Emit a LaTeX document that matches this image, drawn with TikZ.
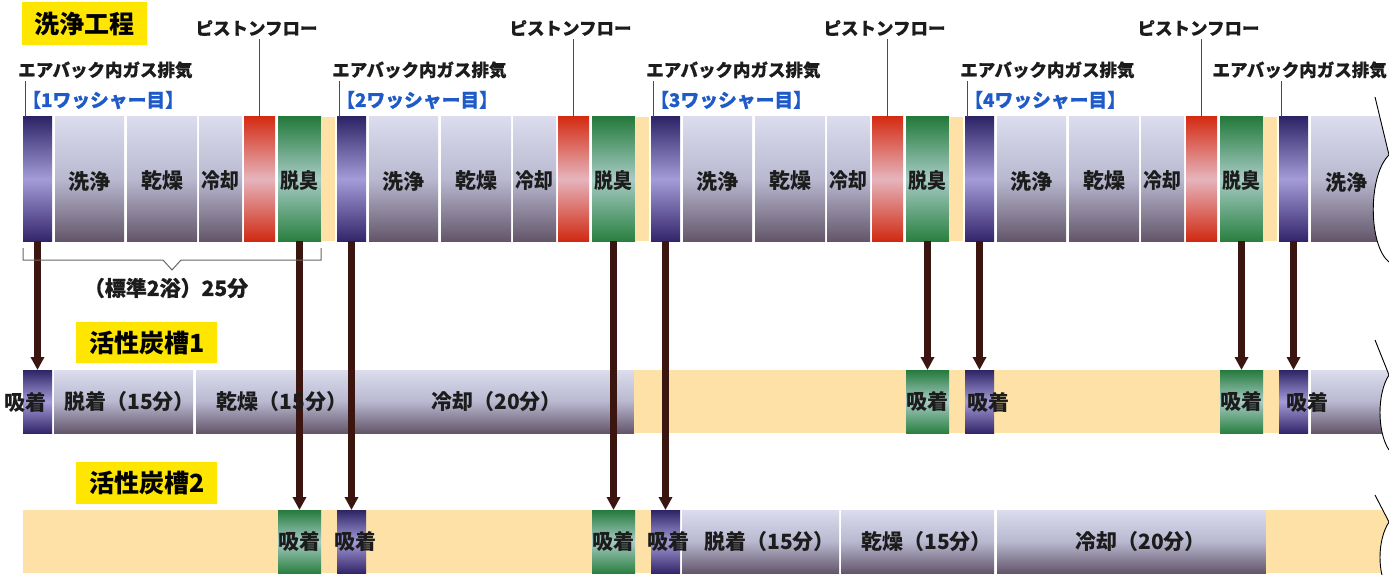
\documentclass[tikz,border=0pt]{standalone}
\usepackage{fontspec}
\usepackage{graphicx}
\setmainfont{Noto Sans CJK JP}
\newfontfamily\jpmed{Noto Sans CJK JP}[FakeBold=0.5]
\usetikzlibrary{arrows.meta}
\newcommand\fs[1]{\fontsize{#1}{#1}\selectfont}
\newcommand\medf{\jpmed\bfseries}
\definecolor{gyT}{HTML}{DCDCEE}
\definecolor{gyM}{HTML}{B8B8D0}
\definecolor{gyB}{HTML}{64566A}
\definecolor{puT}{HTML}{2C2466}
\definecolor{puM}{HTML}{A49CD8}
\definecolor{puB}{HTML}{33256A}
\definecolor{reT}{HTML}{D42C14}
\definecolor{reM}{HTML}{E6B4BC}
\definecolor{reB}{HTML}{D02A12}
\definecolor{grT}{HTML}{247A3C}
\definecolor{grM}{HTML}{A6CBC4}
\definecolor{grB}{HTML}{2A8040}
\definecolor{yel}{HTML}{FDE1A6}
\definecolor{ttlY}{HTML}{FFE600}
\definecolor{arrc}{HTML}{3B1510}
\definecolor{bluec}{HTML}{1E5AC8}
\definecolor{labc}{HTML}{1C1C1C}
\newcommand\blk[6]{\node[blk,#2,minimum width=#5pt,minimum height=#6pt] (#1) at (#3,#4) {};}
\tikzset{
  blk/.style={draw=none, inner sep=0pt, outer sep=0pt, anchor=north west, rectangle},
  gy/.style={top color=gyT, bottom color=gyB, middle color=gyM},
  pu/.style={top color=puT, bottom color=puB, middle color=puM},
  re/.style={top color=reT, bottom color=reB, middle color=reM},
  gr/.style={top color=grT, bottom color=grB, middle color=grM},
  ye/.style={fill=yel},
  lab/.style={font=\fs{21}\bfseries, text=labc, inner sep=0pt},
  ann/.style={font=\fs{17.5}\medf, text=labc, inner sep=0pt},
  bluelab/.style={ann, font=\fs{18.8}\medf, text=bluec},
  ttl/.style={fill=ttlY, font=\fs{25}\bfseries, text=black, inner sep=0pt, anchor=north west},
  arr/.style={-{Triangle[width=13pt,length=13pt]}, line width=7pt, draw=arrc},
  lead/.style={draw=black!70, line width=0.9pt},
  brace/.style={draw=black!60, line width=1pt},
  brkl/.style={draw=black, line width=0.9pt}
}
\begin{document}
\begin{tikzpicture}[x=1pt,y=-1pt]
\useasboundingbox (0,0) rectangle (1389,575);
% ---------- row 1: washing process ----------
\foreach \k in {0,1,2,3}{
  \pgfmathsetmacro\p{23+314*\k}
  \pgfmathtruncatemacro\wnum{\k+1}
  \blk{pu\k}{pu}{\p}{117}{29}{124}
  \blk{wa\k}{gy}{\p+32}{117}{69}{124}
  \blk{dr\k}{gy}{\p+104}{117}{70}{124}
  \blk{co\k}{gy}{\p+176}{117}{43}{124}
  \blk{re\k}{re}{\p+221}{117}{31}{124}
  \blk{gr\k}{gr}{\p+255}{117}{43}{124}
  \blk{ye\k}{ye}{\p+298}{117}{14}{124}
  \node[lab, yshift=-2pt] (lwa\k) at (wa\k) {洗浄};
  \node[lab, yshift=-2pt] (ldr\k) at (dr\k) {乾燥};
  \node[lab, yshift=-2pt] (lco\k) at (co\k) {\scalebox{0.9}[1]{冷却}};
  \node[lab, yshift=-2pt] (lgr\k) at (gr\k) {\scalebox{0.9}[1]{脱臭}};
  \node[ann, anchor=west] (ea\k) at (\p-5,70) {エアバック内ガス排気};
  \node[bluelab, anchor=west] (wn\k) at (\p-1,100) {【\wnum ワッシャー目】};
  \node[ann] (pf\k) at (\p+233.5,28) {ピストンフロー};
  \draw[lead] ([xshift=2pt]pu\k.north west) -- ([xshift=2pt,yshift=-2pt]pu\k.north west |- ea\k.south);
  \draw[lead] (re\k.north) -- ([yshift=-3pt]re\k.north |- pf\k.south);
}
\blk{pu4}{pu}{1279}{117}{29}{124}
\blk{wa4}{gy}{1311}{117}{78}{124}
\node[lab] (lwa4) at (1346,182) {洗浄};
\node[ann, anchor=east] (ea4) at (1387,70) {エアバック内ガス排気};
\draw[lead] ([xshift=2pt]pu4.north west) -- ([xshift=2pt,yshift=-2pt]pu4.north west |- ea4.south);
% ---------- row 2: carbon tank 1 ----------
\blk{ra1}{pu}{23}{370}{29}{63}
\blk{ra2}{gy}{54}{370}{139}{63}
\blk{ra3}{gy}{196}{370}{154}{63}
\blk{ra4}{gy}{353}{370}{281}{63}
\blk{ray}{ye}{634}{370}{645}{63}
\blk{ra5}{gr}{906}{370}{43}{63}
\blk{ra6}{pu}{965}{370}{29}{63}
\blk{ra7}{gr}{1220}{370}{43}{63}
\blk{ra8}{pu}{1279}{370}{29}{63}
\blk{ra9}{gy}{1311}{370}{78}{63}
% ---------- row 3: carbon tank 2 ----------
\blk{rby1}{ye}{23}{510}{628}{63}
\blk{rb1}{gr}{278}{510}{43}{63}
\blk{rb2}{pu}{337}{510}{29}{63}
\blk{rb3}{gr}{592}{510}{43}{63}
\blk{rb4}{pu}{651}{510}{29}{63}
\blk{rb5}{gy}{682}{510}{157}{63}
\blk{rb6}{gy}{841}{510}{153}{63}
\blk{rb7}{gy}{997}{510}{269}{63}
\blk{rby2}{ye}{1266}{510}{123}{63}
% ---------- break marks at the right edge ----------
\fill[white] (1375,97) -- (1389,155) .. controls (1368,175) and (1368,245) .. (1389,262) -- (1389,97) -- cycle;
\draw[brkl] (1375,97) -- (1389,155) .. controls (1368,175) and (1368,245) .. (1389,262);
\fill[white] (1375,340) -- (1389,375) .. controls (1377,393) and (1377,432) .. (1389,450) -- (1389,340) -- cycle;
\draw[brkl] (1375,340) -- (1389,375) .. controls (1377,393) and (1377,432) .. (1389,450);
\fill[white] (1375,495) -- (1389,522) .. controls (1377,540) and (1377,575) .. (1389,592) -- (1389,495) -- cycle;
\draw[brkl] (1375,495) -- (1389,522) .. controls (1377,540) and (1377,575) .. (1389,592);
% ---------- arrows ----------
\draw[arr] (pu0.south) -- (ra1.north);
\draw[arr] (gr0.south) -- (rb1.north);
\draw[arr] (pu1.south) -- (rb2.north);
\draw[arr] (gr1.south) -- (rb3.north);
\draw[arr] (pu2.south) -- (rb4.north);
\draw[arr] (gr2.south) -- (ra5.north);
\draw[arr] (pu3.south) -- (ra6.north);
\draw[arr] (gr3.south) -- (ra7.north);
\draw[arr] (pu4.south) -- (ra8.north);
% ---------- row labels ----------
\node[lab] (la1) at (25.5,402) {吸着};
\node[lab, xshift=6pt] (la2) at (ra2) {脱着（15分）};
\node[lab, xshift=9pt] (la3) at (ra3) {乾燥（15分）};
\node[lab, xshift=3pt] (la4) at (ra4) {冷却（20分）};
\node[lab] (la5) at (ra5) {吸着};
\node[lab, anchor=west] (la6) at (967,402) {吸着};
\node[lab] (la7) at (ra7) {吸着};
\node[lab, anchor=west] (la8) at (1286,402) {吸着};
\node[lab] (lb1) at (rb1) {吸着};
\node[lab] (lb2) at (355,541) {吸着};
\node[lab] (lb3) at (rb3) {吸着};
\node[lab] (lb4) at (668,541) {吸着};
\node[lab, xshift=9pt] (lb5) at (rb5) {脱着（15分）};
\node[lab, xshift=9pt] (lb6) at (rb6) {乾燥（15分）};
\node[lab, xshift=9pt] (lb7) at (rb7) {冷却（20分）};
% ---------- titles ----------
\node[ttl, minimum width=125pt, minimum height=43pt] (t0) at (22,2) {洗浄工程};
\node[ttl, minimum width=141pt, minimum height=41pt] (t1) at (76,322) {活性炭槽1};
\node[ttl, minimum width=141pt, minimum height=42pt] (t2) at (76,462) {活性炭槽2};
% ---------- bracket ----------
\draw[brace] (23,248) -- (23,260) -- (163,260) -- (172,270) -- (181,260) -- (321,260) -- (321,248);
\node[ann, font=\fs{21}\medf] (std) at (166,288) {（標準2浴）25分};
\end{tikzpicture}
\end{document}
